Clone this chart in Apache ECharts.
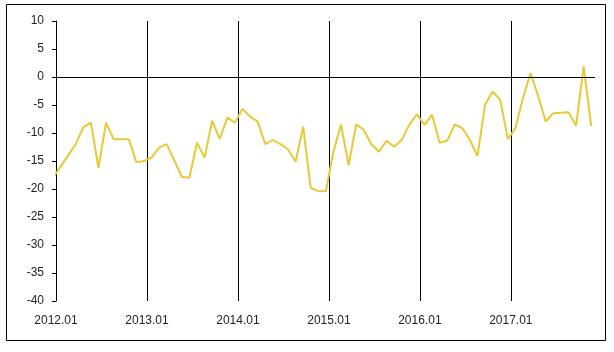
<!DOCTYPE html>
<html>
<head>
<meta charset="utf-8">
<script src="https://cdn.jsdelivr.net/npm/echarts@6/dist/echarts.min.js"></script>
<style>
  html, body { margin: 0; padding: 0; background: #fff; }
  #chart { width: 614px; height: 352px; }
</style>
</head>
<body>
<div id="chart"></div>
<script>
// tick labels on the x axis, one per year
const yearLabels = ['2012.01', '2013.01', '2014.01', '2015.01', '2016.01', '2017.01'];
// y axis ticks
const yMin = -40, yMax = 10, yStep = 5;
// monthly values, first one sits just left of the plot and is clipped
const values = [
  -18.0, -16.0, -14.0, -12.0, -9.0, -8.15, -16.2, -8.15, -11.1, -11.1, -11.1, -15.2,
  -15.0, -14.4, -12.6, -12.0, -14.9, -17.85, -17.95, -11.75, -14.4, -7.8, -11.1, -7.25,
  -8.15, -5.7, -7.07, -7.97, -12.0, -11.25, -12.0, -12.9, -15.15, -8.87, -19.8, -20.4,
  -20.35, -13.3, -8.5, -15.75, -8.45, -9.45, -12.0, -13.35, -11.4, -12.45, -11.25, -8.55,
  -6.65, -8.55, -6.75, -11.75, -11.4, -8.45, -9.15, -11.25, -14.1, -4.97, -2.6, -4.1,
  -11.1, -9.15, -3.77, 0.7, -3.4, -7.97, -6.46, -6.4, -6.28, -8.7, 1.9, -8.75
];

const xStart = 0.4;          // axis starts a bit after the first point
const xEnd = xStart + 71.1;

let myChart = echarts.init(document.getElementById('chart'));

let points = values.map((v, i) => [i, v]);

let option = {
  animation: false,
  grid: { left: 56, right: 19, top: 21, bottom: 51 },
  xAxis: [{
    type: 'value',
    min: xStart,
    max: xEnd,
    interval: 12,
    axisLine: { show: false },
    axisTick: { show: false },
    splitLine: {
      show: true,
      showMaxLine: false,
      lineStyle: { color: '#000', width: 1 }
    },
    axisLabel: {
      show: true,
      margin: 14,
      color: '#222',
      fontFamily: 'Liberation Sans, Arial, sans-serif',
      fontSize: 12,
      showMaxLabel: false,
      formatter: (val) => {
        let idx = Math.round((val - xStart) / 12);
        return yearLabels[idx] || '';
      }
    }
  }],
  yAxis: [{
    type: 'value',
    min: yMin,
    max: yMax,
    interval: yStep,
    axisLine: { show: true, lineStyle: { color: '#000', width: 1 } },
    axisTick: { show: true, length: 4, lineStyle: { color: '#000' } },
    splitLine: { show: false },
    axisLabel: {
      margin: 12,
      color: '#222',
      fontFamily: 'Liberation Sans, Arial, sans-serif',
      fontSize: 12
    }
  }],
  series: [{
    type: 'line',
    data: points,
    showSymbol: false,
    clip: true,
    lineStyle: { color: '#E8C937', width: 2 },
    markLine: {
      silent: true,
      symbol: 'none',
      label: { show: false },
      lineStyle: { color: '#000', width: 1, type: 'solid' },
      data: [{ yAxis: 0 }]
    }
  }],
  graphic: [{
    type: 'rect',
    shape: { x: 6.5, y: 4.5, width: 599, height: 336 },
    style: { fill: 'none', stroke: '#000', lineWidth: 1 }
  }]
};

myChart.setOption(option, true);
</script>
</body>
</html>
